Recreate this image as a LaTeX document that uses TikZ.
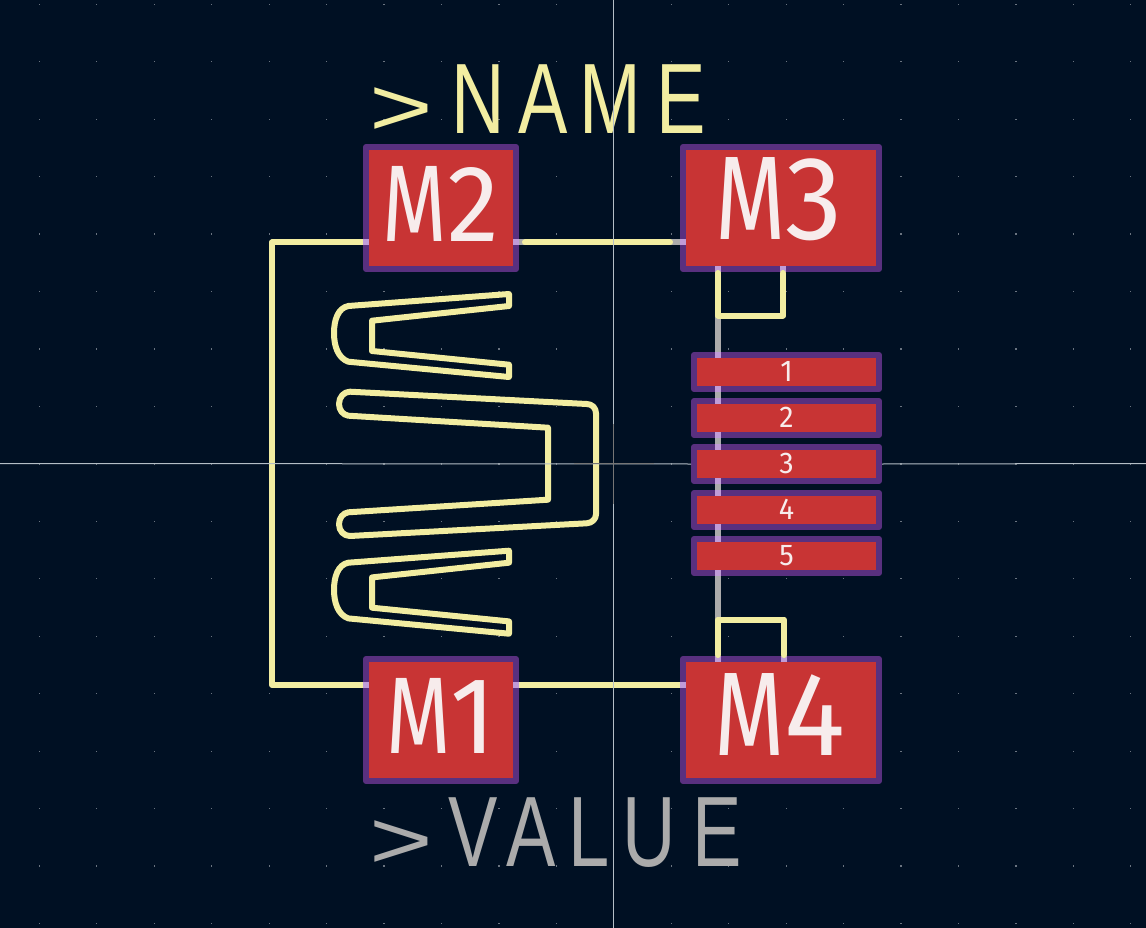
\documentclass[tikz,border=0pt]{standalone}
\usepackage{fontspec}
\setmainfont{Liberation Sans}
\newfontfamily\strokefont[FakeStretch=.74]{Liberation Sans}
\newfontfamily\strokegt[FakeStretch=1.33]{Liberation Sans}
\newfontfamily\padM[FakeStretch=.76]{Fira Sans}
\newfontfamily\padD[FakeStretch=.96]{Fira Sans}
\definecolor{bg}{HTML}{001023}
\definecolor{padred}{HTML}{C83434}
\definecolor{ring}{HTML}{59307F}
\definecolor{over}{HTML}{C09CD8}
\definecolor{silk}{HTML}{F2EDA1}
\definecolor{fab}{HTML}{ABABAB}
\definecolor{padtext}{HTML}{F7ECEC}
\definecolor{griddot}{HTML}{6A7480}
\definecolor{cross}{HTML}{B4BEC6}
\definecolor{crossdark}{HTML}{757575}
\newcommand{\gtsign}{\raisebox{-2pt}{\fontsize{82pt}{82pt}\selectfont\strokegt >}}
\tikzset{
  pad/.style={draw=ring,fill=padred,line width=6pt,line join=round,text=padtext,inner sep=0pt,align=center},
  padlabel/.style={text=padtext,inner sep=0pt,anchor=base},
  silkline/.style={draw=silk,line width=6pt,line cap=round,line join=round},
  silkshape/.style={draw=silk,line width=6pt,line join=round},
  fabline/.style={draw=fab,line width=6pt},
  overlap/.style={draw=over,line width=6pt},
  crossline/.style={draw=cross,line width=1pt},
  crossmid/.style={draw=crossdark,line width=1pt},
  label/.style={inner sep=0pt,anchor=base west},
}
\begin{document}
\begin{tikzpicture}[x=1pt,y=-1pt]
\useasboundingbox (0,0) rectangle (1146,928);
\fill[bg] (0,0) rectangle (1146,928);
% grid dots
\foreach \i in {-11,...,10}{
  \foreach \j in {-8,...,8}{
    \fill[griddot] ({613.8+\i*57.45-.6},{463.9+\j*57.45-.6}) rectangle ++(1.2,1.2);
  }
}
% fab
\coordinate (f1) at (718,266);
\coordinate (f2) at (718,622);
\draw[fabline] (f1) -- (f2);
\coordinate (g1) at (513,242.5);
\coordinate (g2) at (686,242.5);
\draw[fabline] (g1) -- (g2);
% pads
\node[pad,minimum width=150pt,minimum height=122pt] (m2) at (441,208) {};
\node[pad,minimum width=196pt,minimum height=122pt] (m3) at (781,208) {};
\node[pad,minimum width=150pt,minimum height=122pt] (m1) at (441,720) {};
\node[pad,minimum width=196pt,minimum height=122pt] (m4) at (781,720) {};
\node[pad,minimum width=185pt,minimum height=34pt] (p1) at (786.5,372) {};
\node[pad,minimum width=185pt,minimum height=34pt] (p2) at (786.5,418) {};
\node[pad,minimum width=185pt,minimum height=34pt] (p3) at (786.5,464) {};
\node[pad,minimum width=185pt,minimum height=34pt] (p4) at (786.5,510) {};
\node[pad,minimum width=185pt,minimum height=34pt] (p5) at (786.5,556) {};
% overlaps on rings
\foreach \y in {266,352,386,398,432,444,478,490,524,536,570,656}{
  \draw[overlap] (718,\y) -- ++(0,6);
}
\draw[overlap] (783,266) -- ++(0,6);
\draw[overlap] (784,656) -- ++(0,6);
\foreach \x in {363,513,680}{
  \draw[overlap] (\x,242.5) -- ++(6,0);
  \draw[overlap] (\x,685) -- ++(6,0);
}
% pad texts
\node[padlabel] (tm2) at (441,241) {\fontsize{109pt}{109pt}\selectfont\padM M\padD 2};
\node[padlabel] (tm1) at (441,753) {\fontsize{109pt}{109pt}\selectfont\padM M\padD 1};
\node[padlabel] (tm3) at (779,240) {\fontsize{119pt}{119pt}\selectfont\padM M\padD 3};
\node[padlabel] (tm4) at (780,755) {\fontsize{119pt}{119pt}\selectfont\padM M\padD 4};
\foreach \n/\y in {1/381,2/427,3/473,4/519,5/565}{
  \node[padlabel] (tp\n) at (786.5,\y) {\fontsize{30pt}{30pt}\selectfont\padD \n};
}
% silk
\coordinate (a1) at (525,242.5);
\coordinate (a2) at (670,242.5);
\draw[silkline] (a1) -- (a2);
\coordinate (b1) at (519,685);
\coordinate (b2) at (680,685);
\draw[silkline,line cap=butt] (b1) -- (b2);
\coordinate (c1) at (363,242.5);
\coordinate (c2) at (363,685);
\draw[silkline,line cap=butt] (c1) -- (272,242.5) -- (272,685) -- (c2);
\draw[silkline] (718,273) -- (718,315.5) -- (783,315.5) -- (783,273);
\draw[silkline] (718,655) -- (718,619.5) -- (784,619.5) -- (784,655);
% springs
\draw[silkshape] (509,294) -- (509,306) -- (372,320.7) -- (372,351) -- (509,364.7) -- (509,377) -- (348.3,361.7)
  .. controls (338,358) and (334,346) .. (334,333)
  .. controls (334,320) and (338,308) .. (348.3,306) -- cycle;
\draw[silkshape] (509,550.7) -- (509,562.7) -- (372,577.4) -- (372,607.7) -- (509,621.4) -- (509,633.7) -- (348.3,618.4)
  .. controls (338,614.7) and (334,602.7) .. (334,589.7)
  .. controls (334,576.7) and (338,564.7) .. (348.3,562.7) -- cycle;
\draw[silkshape] (350,391.7) -- (586.7,404)
  .. controls (592,404) and (596,408) .. (596,413.3) -- (596,514.3)
  .. controls (596,519) and (592,523) .. (586.7,523.3) -- (350,536)
  .. controls (344,536) and (339,531) .. (339,524.3)
  .. controls (339,518) and (343,513) .. (348.3,512.3) -- (548,499.7) -- (548,427.7) -- (348.3,415.7)
  .. controls (343,415) and (339,410) .. (339,404)
  .. controls (339,397) and (344,391.7) .. (350,391.7) -- cycle;
% field texts
\node[label,text=silk] (tname) at (369,134) {\gtsign\kern18.7pt\fontsize{100pt}{100pt}\selectfont\strokefont N\kern13.6pt A\kern12pt M\kern15pt E};
\node[label,text=fab] (tvalue) at (369,866) {\gtsign\kern15.3pt\fontsize{100pt}{100pt}\selectfont\strokefont V\kern9pt A\kern12.6pt L\kern12.5pt U\kern17pt E};
% crosshair: stops at the centre pad, which hides it
\coordinate (cl) at (0,463.5);
\coordinate (cr) at (1146,463.5);
\coordinate (ct) at (613.5,0);
\coordinate (cb) at (613.5,928);
\draw[crossline] (cl) -- (p3.west);
\draw[crossline] (p3.east) -- (cr);
\draw[crossline] (ct) -- (cb);
\coordinate (dl) at (574,463.5);
\coordinate (dr) at (654,463.5);
\coordinate (dt) at (613.5,424);
\coordinate (db) at (613.5,504);
\draw[crossmid] (dl) -- (dr);
\draw[crossmid] (dt) -- (db);
\end{tikzpicture}
\end{document}
